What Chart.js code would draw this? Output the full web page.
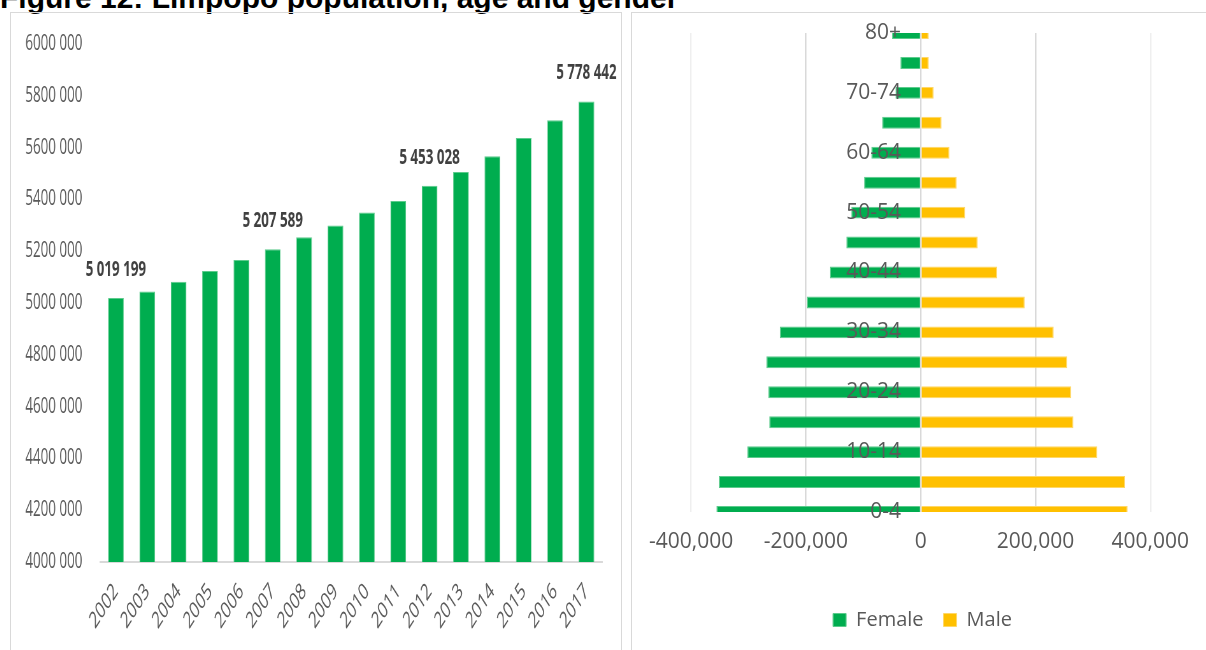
<!DOCTYPE html>
<html>
<head>
<meta charset="utf-8">
<script src="https://cdn.jsdelivr.net/npm/chart.js@4/dist/chart.umd.min.js"></script>
<style>
    html, body { margin: 0; padding: 0; background: #fff; overflow: hidden; }
    body { width: 1206px; height: 650px; position: relative; }
    .caption { position: absolute; left: 0; top: -17px; font: bold 30px 'Liberation Sans', Arial, sans-serif; line-height: 30px; color: #000; white-space: nowrap; }
    .frame { position: absolute; top: 12px; height: 700px; border: 1px solid #d9d9d9; box-sizing: border-box; }
    #popFrame { left: 10px; width: 612px; }
    #ageFrame { left: 631px; width: 600px; }
    canvas { position: absolute; }
    /* the source picture of this chart was squeezed sideways; do the same */
    #popChart { left: 11px; top: 13px; transform: scaleX(0.637); transform-origin: 0 0; }
    #ageChart { left: 632px; top: 13px; }
</style>
</head>
<body>
<div class="caption">Figure 12: Limpopo population, age and gender</div>
<div class="frame" id="popFrame"></div>
<div class="frame" id="ageFrame"></div>
<canvas id="popChart" width="958" height="637"></canvas>
<canvas id="ageChart" width="574" height="637"></canvas>
<script>
// Left: total population by year
const years = ['2002', '2003', '2004', '2005', '2006', '2007', '2008', '2009',
    '2010', '2011', '2012', '2013', '2014', '2015', '2016', '2017'];
const population = [5019199, 5044000, 5082000, 5124000, 5166000, 5207589, 5254000, 5299000,
    5349000, 5394000, 5453028, 5506000, 5567000, 5637000, 5706000, 5778442];
const labelledYears = ['2002', '2007', '2012', '2017'];
const popMin = 4000000;
const popMax = 6000000;
const popStep = 200000;

// Right: age pyramid (females negative so they extend left)
const ageGroups = ['0-4', '5-9', '10-14', '15-19', '20-24', '25-29', '30-34', '35-39', '40-44',
    '45-49', '50-54', '55-59', '60-64', '65-69', '70-74', '75-79', '80+'];
const female = [-356000, -351600, -302200, -263900, -265600, -269000, -245400, -198400, -158300,
    -129600, -121000, -98600, -86000, -67100, -44000, -35500, -49900];
const male = [360700, 356100, 307800, 266200, 262300, 255400, 231800, 181400, 133300,
    99400, 77700, 62800, 50300, 36500, 22700, 14100, 14100];
const ageMin = -400000;
const ageMax = 400000;
const ageStep = 200000;

const GREEN = '#00ad4f';
const YELLOW = '#ffc000';
const TEXT = '#595959';
const FONT = "'Open Sans', 'Noto Sans', sans-serif";

// "6000 000" style used on the axis
function fmtAxis(v) {
    return Math.floor(v / 1000) + ' ' + String(v % 1000).padStart(3, '0');
}

// "5 019 199" style used on the bar labels
function fmtSpaced(v) {
    return String(Math.round(v)).replace(/\B(?=(\d{3})+(?!\d))/g, ' ');
}

// only every other age group carries a label, as in the source
function shownAge(i) {
    return i % 2 === 0 ? ageGroups[i] : '';
}

function widestText(texts, font) {
    const ctx = document.createElement('canvas').getContext('2d');
    ctx.font = font;
    return Math.max(...texts.map(t => ctx.measureText(t).width));
}

// tick padding would otherwise leak into the layout's top/bottom padding
function fixVertical(width) {
    return s => {
        s.width = width;
        s.paddingTop = 0;
        s.paddingBottom = 0;
    };
}

const barValueLabels = {
    id: 'barValueLabels',
    afterDatasetsDraw(chart) {
        const meta = chart.getDatasetMeta(0);
        const ctx = chart.ctx;
        ctx.save();
        ctx.font = `bold 21px ${FONT}`;
        ctx.fillStyle = '#404040';
        ctx.textAlign = 'center';
        ctx.textBaseline = 'middle';
        years.forEach((yr, i) => {
            if (!labelledYears.includes(yr)) return;
            const bar = meta.data[i];
            ctx.fillText(fmtSpaced(population[i]), bar.x, bar.y - 28);
        });
        ctx.restore();
    }
};

new Chart(document.getElementById('popChart').getContext('2d'), {
    type: 'bar',
    data: {
        labels: years,
        datasets: [{
            label: 'Population', data: population, backgroundColor: GREEN,
            borderColor: '#5ccb8c', borderWidth: 1, categoryPercentage: 1, barPercentage: 0.5
        }]
    },
    options: {
        responsive: false, animation: false,
        layout: { padding: { left: 10, right: 30, top: 31, bottom: 0 } },
        plugins: { legend: { display: false }, tooltip: { enabled: false } },
        scales: {
            x: {
                grid: { display: false, drawTicks: false },
                border: { color: '#d9d9d9', width: 2 },
                ticks: { minRotation: 45, maxRotation: 45, color: TEXT, padding: 16, font: { family: FONT, size: 23 } },
                afterFit: s => { s.height = 88; }
            },
            y: {
                min: popMin, max: popMax,
                grid: { display: false, drawTicks: false },
                border: { display: false },
                ticks: { stepSize: popStep, color: TEXT, padding: 28, font: { family: FONT, size: 21 }, callback: v => fmtAxis(v) },
                afterFit: fixVertical(130)
            }
        }
    },
    plugins: [barValueLabels]
});

// age labels sit right-aligned just left of the zero line, over the bars
const ageFontSize = 21;
const ageLabelEdge = 210;
const ageWidest = widestText(ageGroups.map((g, i) => shownAge(i)), `${ageFontSize}px ${FONT}`);

new Chart(document.getElementById('ageChart').getContext('2d'), {
    type: 'bar',
    data: {
        labels: ageGroups,
        datasets: [
            { label: 'Female', data: female, backgroundColor: GREEN, borderColor: '#5ccb8c', borderWidth: 1 },
            { label: 'Male', data: male, backgroundColor: YELLOW, borderColor: '#ffd766', borderWidth: 1 }
        ]
    },
    options: {
        indexAxis: 'y',
        responsive: false, animation: false,
        layout: { padding: { left: 58, right: 51, top: 20, bottom: 10 } },
        datasets: { bar: { categoryPercentage: 0.4, barPercentage: 1, clip: 0 } },
        plugins: {
            tooltip: { enabled: false },
            legend: {
                position: 'bottom',
                labels: { boxWidth: 13, boxHeight: 13, padding: 20, color: TEXT, font: { family: FONT, size: 20 } }
            }
        },
        scales: {
            x: {
                stacked: true, min: ageMin, max: ageMax,
                grid: { drawTicks: false, lineWidth: 1.5, color: c => Math.abs(c.tick.value) === ageMax ? '#efefef' : '#d9d9d9' },
                border: { display: false },
                ticks: { stepSize: ageStep, color: TEXT, padding: 17, font: { family: FONT, size: 21 } },
                afterFit: s => { s.height = 78; }
            },
            y: {
                stacked: true, reverse: true, offset: false,
                grid: { display: false, drawTicks: false },
                border: { display: false },
                ticks: {
                    autoSkip: false, mirror: true, crossAlign: 'far', z: 1,
                    padding: ageLabelEdge - ageWidest, color: TEXT, font: { family: FONT, size: ageFontSize },
                    callback: (v, i) => shownAge(i)
                },
                afterFit: fixVertical(0)
            }
        }
    }
});
</script>
</body>
</html>
